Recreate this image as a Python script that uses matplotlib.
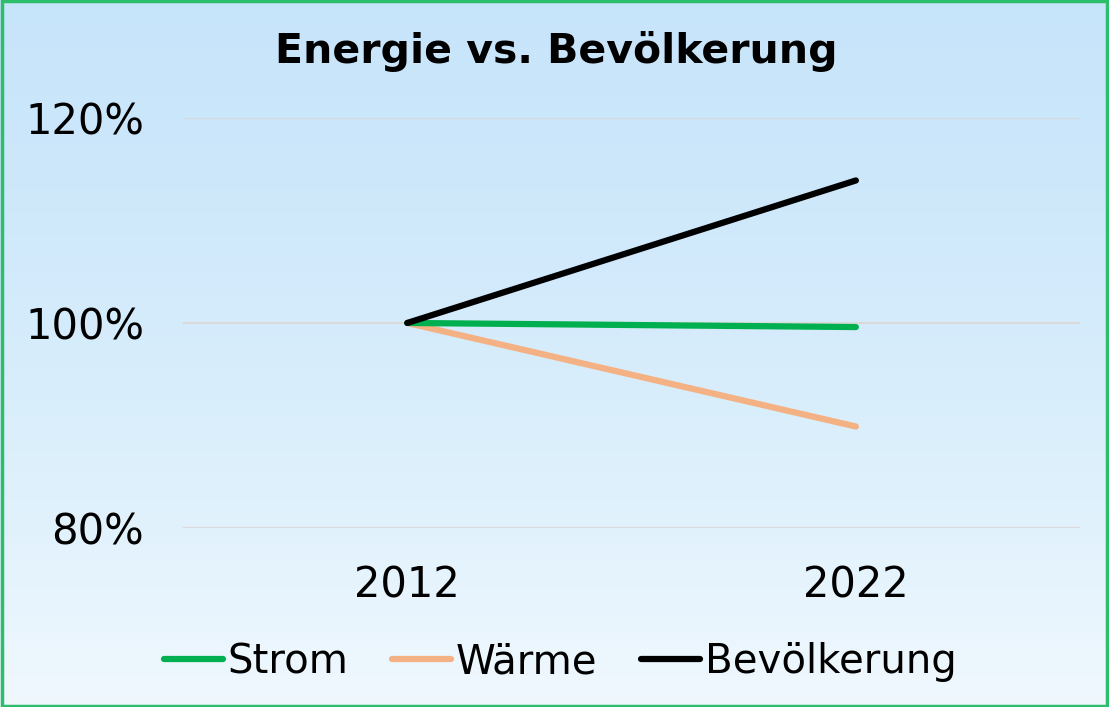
import numpy as np
import matplotlib.pyplot as plt
from matplotlib.colors import LinearSegmentedColormap

# Data
years = ['2012', '2022']
strom = [100.0, 99.6]
waerme = [100.0, 89.9]
bevoelkerung = [100.0, 113.9]
y_ticks = [80, 100, 120]

plt.rcParams['font.family'] = ['DejaVu Sans']

fig = plt.figure(figsize=(11.09, 7.07), dpi=100)

# sky-like background, darker blue at top, lighter towards the bottom
bg = fig.add_axes([0, 0, 1, 1], zorder=-10)
sky = LinearSegmentedColormap.from_list('sky', ['#C6E4FA', '#D0E9FB', '#DDF0FC', '#F0F8FE'])
grad = np.linspace(0, 1, 256).reshape(-1, 1)
bg.imshow(grad, cmap=sky, aspect='auto', extent=[0, 1, 0, 1], origin='upper')
bg.axis('off')
# green frame
frame = plt.Rectangle((0.002, 0.002), 0.996, 0.996, transform=fig.transFigure,
                      fill=False, edgecolor='#2DBE6C', linewidth=2.5)
fig.patches.append(frame)

ax = fig.add_axes([0.165, 0.2532, 0.809, 0.58])
ax.patch.set_alpha(0)
x = np.arange(len(years))
ax.plot(x, waerme, color='#F4B183', linewidth=4.5, solid_capstyle='round', zorder=3, label='Wärme')
ax.plot(x, strom, color='#00B050', linewidth=4.5, solid_capstyle='round', zorder=4, label='Strom')
ax.plot(x, bevoelkerung, color='black', linewidth=4.5, solid_capstyle='round', zorder=5, label='Bevölkerung')

ax.set_xlim(-0.5, 1.5)
ax.set_ylim(80, 120)
ax.set_yticks(y_ticks)
ax.set_yticklabels([f'{v}%' for v in y_ticks])
ax.set_xticks(x)
ax.set_xticklabels(years)
ax.tick_params(axis='both', length=0, labelsize=30, colors='black')
ax.tick_params(axis='y', pad=28)
ax.tick_params(axis='x', pad=26)
ax.grid(axis='y', color='#D9D9D9', linewidth=1.5)
for s in ax.spines.values():
    s.set_visible(False)

fig.text(0.502, 1 - 52 / 707, 'Energie vs. Bevölkerung', ha='center', va='center',
         fontsize=29.5, fontweight='bold')

h, l = ax.get_legend_handles_labels()
order = [1, 0, 2]
fig.legend([h[i] for i in order], [l[i] for i in order], loc='center',
           bbox_to_anchor=(0.505, 1 - 662 / 707), ncol=3, frameon=False,
           fontsize=29, handlelength=1.47, handletextpad=0.1, columnspacing=1.1)

fig.savefig('out.png', dpi=100)
